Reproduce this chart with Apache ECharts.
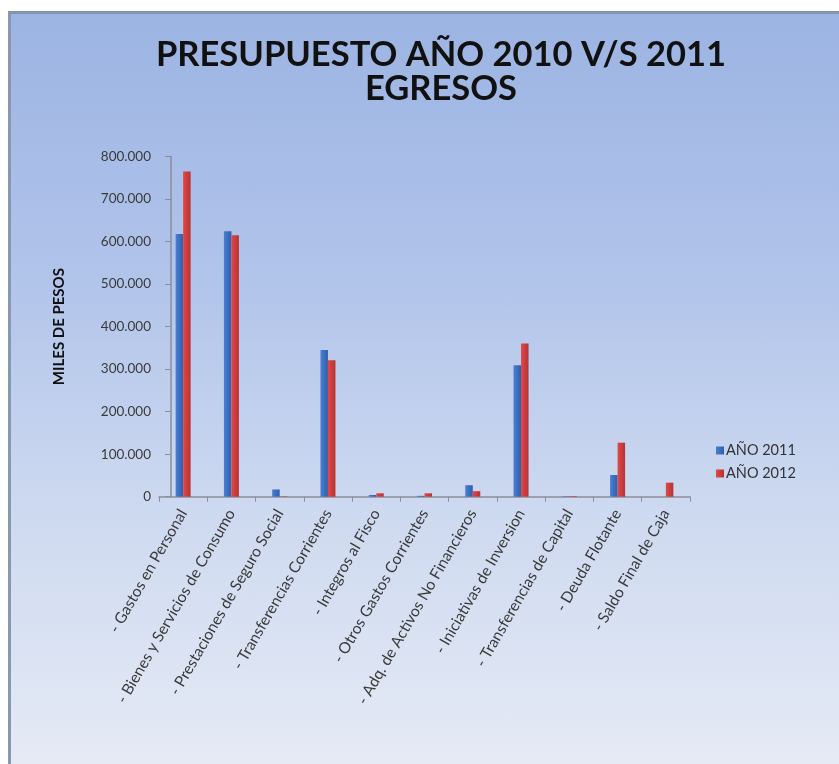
<!DOCTYPE html>
<html>
<head>
<meta charset="utf-8">
<script src="https://cdn.jsdelivr.net/npm/echarts@6/dist/echarts.min.js"></script>
<style>
html,body{margin:0;padding:0;background:#ffffff;width:839px;height:764px;overflow:hidden;}
#frame{position:absolute;left:8px;top:11px;width:840px;height:760px;
 border-top:3px solid #8795aa;border-left:3px solid #8a98ad;box-sizing:border-box;
 background:linear-gradient(to bottom,#9cb4e3 0%,#b1c4ea 35%,#cdd9f0 65%,#e6ebf5 100%);}
#chart{position:absolute;left:0;top:0;width:839px;height:764px;}
</style>
</head>
<body>
<div id="frame"></div>
<div id="chart"></div>
<script>
const categories = [
  '- Gastos en Personal',
  '- Bienes y Servicios de Consumo',
  '- Prestaciones de Seguro Social',
  '- Transferencias Corrientes',
  '- Integros al Fisco',
  '- Otros Gastos Corrientes',
  '- Adq. de Activos No Financieros',
  '- Iniciativas de Inversion',
  '- Transferencias de Capital',
  '- Deuda Flotante',
  '- Saldo Final de Caja'
];
const values2011 = [618000, 624000, 17000, 345000, 4000, 2000, 27000, 309000, 1000, 51000, 0];
const values2012 = [765000, 615000, 1000, 321000, 8000, 8000, 13000, 360000, 1500, 127000, 33000];
const seriesNames = ['AÑO 2011', 'AÑO 2012'];
const titleLines = ['PRESUPUESTO AÑO 2010 V/S 2011', 'EGRESOS'];
const yAxisName = 'MILES DE PESOS';

function fmt(v){
  return String(v).replace(/\B(?=(\d{3})+(?!\d))/g, '.');
}

const chart = echarts.init(document.getElementById('chart'), null, {renderer:'canvas'});
const font = 'Lato, "Open Sans", sans-serif';
chart.setOption({
  backgroundColor: 'transparent',
  animation: false,
  title: {
    text: titleLines.join('\n'),
    left: 436, top: 33, textAlign: 'center',
    textStyle: {fontFamily: font, fontWeight: 'bold', fontSize: 34.5, lineHeight: 34, color: '#111111'}
  },
  legend: {
    orient: 'vertical', left: 711, top: 438,
    itemWidth: 8, itemHeight: 8, itemGap: 8,
    icon: 'rect',
    textStyle: {fontFamily: font, fontSize: 14.5, color: '#333333', lineHeight: 14, padding:[0,0,0,-3]},
    data: seriesNames
  },
  grid: {left: 159, top: 156.5, width: 531, bottom: 267.3, containLabel: false},
  xAxis: {
    type: 'category', data: categories,
    axisLine: {show: true, lineStyle: {color: '#8a8f98', width: 1.5}},
    axisTick: {show: true, length: 5, lineStyle: {color: '#8a8f98'}},
    axisLabel: {rotate: 60, interval: 0, margin: 14, fontFamily: font, fontSize: 15.5, color: '#3a3a3a'}
  },
  yAxis: {
    type: 'value', min: 0, max: 800000, interval: 100000,
    offset: -12,
    name: yAxisName, nameLocation: 'middle', nameRotate: 90, nameGap: 104,
    nameTextStyle: {fontFamily: font, fontWeight: 'bold', fontSize: 15, color: '#111111'},
    axisLine: {show: true, lineStyle: {color: '#8a8f98', width: 1.5}},
    axisTick: {show: true, inside: false, length: 6, lineStyle: {color: '#8a8f98'}},
    splitLine: {show: false},
    axisLabel: {formatter: fmt, margin: 20, fontFamily: font, fontSize: 13.5, color: '#3a3a3a'}
  },
  series: [
    {
      name: seriesNames[0], type: 'bar', data: values2011,
      barWidth: 7.5, barGap: '0%',
      itemStyle: {color: new echarts.graphic.LinearGradient(0,0,1,0,[{offset:0,color:'#4a7fd0'},{offset:1,color:'#2f5fae'}])}
    },
    {
      name: seriesNames[1], type: 'bar', data: values2012,
      barWidth: 7.5, barGap: '0%',
      itemStyle: {color: new echarts.graphic.LinearGradient(0,0,1,0,[{offset:0,color:'#e04848'},{offset:1,color:'#b83232'}])}
    }
  ]
});
</script>
</body>
</html>
